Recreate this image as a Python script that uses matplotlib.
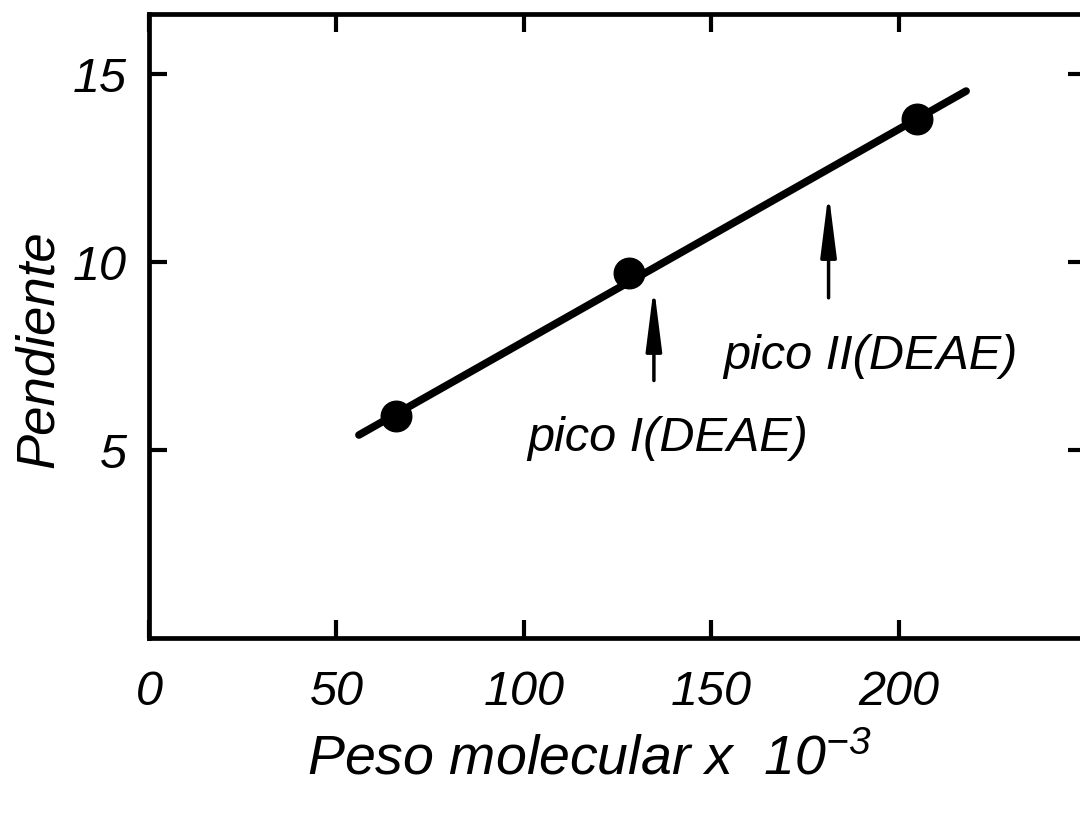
import matplotlib.pyplot as plt

# slope vs molecular weight (x 10^-3)
peso = [66, 128, 205]
pendiente = [5.9, 9.7, 13.8]

# straight-line fit drawn through the points
recta_x = [56, 218]
recta_y = [5.4, 14.55]

# peak positions marked with arrows
pico_x = [134.7, 181.3]
pico_cola = [6.85, 9.05]
pico_punta = [9.35, 11.85]
pico_texto = ['pico I(DEAE)', 'pico II(DEAE)']
texto_pos = [(138.5, 5.3), (192.5, 7.5)]

xticks = [0, 50, 100, 150, 200]
yticks = [5, 10, 15]

fam = 'Liberation Sans'
plt.rcParams['font.family'] = [fam, 'DejaVu Sans']
plt.rcParams['font.style'] = 'italic'
plt.rcParams['mathtext.fontset'] = 'custom'
plt.rcParams['mathtext.rm'] = fam + ':italic'
plt.rcParams['mathtext.it'] = fam + ':italic'

fig = plt.figure(figsize=(10.8, 8.14), dpi=100)
ax = fig.add_axes([0.138, 0.2162, 0.8676, 0.7666])

ax.plot(recta_x, recta_y, color='black', lw=5.5, solid_capstyle='round', zorder=2)
ax.plot(peso, pendiente, 'o', color='black', ms=22, zorder=3)

for x, t, h in zip(pico_x, pico_cola, pico_punta):
    ax.annotate('', xy=(x, h), xytext=(x, t),
                arrowprops=dict(arrowstyle='-|>,head_length=1.9,head_width=0.24',
                                mutation_scale=20, lw=2.5, color='black',
                                shrinkA=0, shrinkB=0))
for s, (x, y) in zip(pico_texto, texto_pos):
    ax.text(x, y, s, fontsize=35, ha='center', va='center')

ax.set_xlim(0, 250)
ax.set_ylim(0, 16.6)
ax.set_xticks(xticks)
ax.set_yticks(yticks)
ax.set_xticklabels([str(v) for v in xticks], fontsize=35)
ax.set_yticklabels([str(v) for v in yticks], fontsize=35)
ax.tick_params(direction='in', length=13, width=3, top=True, right=True)
ax.tick_params(axis='x', pad=23)
ax.tick_params(axis='y', pad=16)
for sp in ax.spines.values():
    sp.set_linewidth(3.4)

ax.set_xlabel('Peso molecular x  10$^{-3}$', fontsize=40)
ax.set_ylabel('Pendiente', fontsize=38)
ax.xaxis.set_label_coords(0.47, -0.196)
ax.yaxis.set_label_coords(-0.118, 0.463)
ax.xaxis.label.set_va('center')
ax.yaxis.label.set_va('center')

fig.savefig('out.png', dpi=100)
